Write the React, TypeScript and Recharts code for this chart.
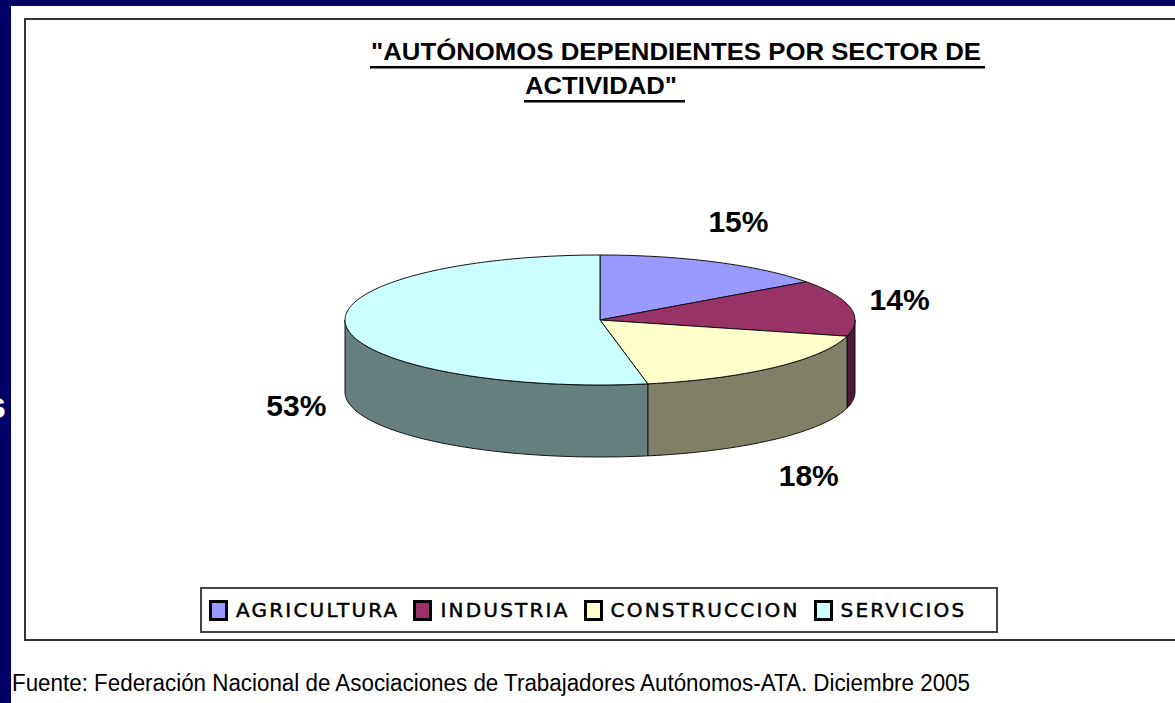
import { PieChart, Pie, Cell, Legend } from "recharts";

// sectors and shares (percent of dependent self-employed)
const sectors = ["AGRICULTURA", "INDUSTRIA", "CONSTRUCCION", "SERVICIOS"];
const shares = [15, 14, 18, 53];

const TOP_COLORS = ["#9999FF", "#993366", "#FFFFCC", "#CCFFFF"];
const SIDE_COLORS = ["#4D4D80", "#4D1A33", "#808066", "#668080"];

const pieData = sectors.map((name, i) => ({ name, value: shares[i] }));

const CX = 600;
const CY = 320;
const RX = 255;
const TILT = 65 / 255; // vertical squash of the disc
const DEPTH = 72;
const RAD = Math.PI / 180;

const pt = (cx: number, cy: number, rx: number, ry: number, deg: number) =>
  `${(cx + rx * Math.cos(deg * RAD)).toFixed(2)},${(cy - ry * Math.sin(deg * RAD)).toFixed(2)}`;

const arcPoints = (cx: number, cy: number, rx: number, ry: number, from: number, to: number) => {
  const pts: string[] = [];
  const n = Math.max(2, Math.ceil(Math.abs(to - from)));
  for (let k = 0; k <= n; k++) pts.push(pt(cx, cy, rx, ry, from + ((to - from) * k) / n));
  return pts;
};

const TopShape = (props: any) => {
  const { cx, cy, outerRadius, startAngle, endAngle, fill } = props;
  const ry = outerRadius * TILT;
  const pts = arcPoints(cx, cy, outerRadius, ry, startAngle, endAngle);
  return (
    <path
      d={`M${cx},${cy} L${pts.join(" L")} Z`}
      fill={fill}
      stroke="#111"
      strokeWidth={1}
      strokeLinejoin="round"
    />
  );
};

const SideShape = (props: any) => {
  const { cx, cy, outerRadius, startAngle, endAngle, fill } = props;
  // only the front half of the rim is visible
  const hi = Math.min(Math.max(startAngle, endAngle), 0);
  const lo = Math.max(Math.min(startAngle, endAngle), -180);
  if (hi <= lo) return <g />;
  const ry = outerRadius * TILT;
  const upper = arcPoints(cx, cy, outerRadius, ry, hi, lo);
  const lower = arcPoints(cx, cy + DEPTH, outerRadius, ry, lo, hi);
  return (
    <path
      d={`M${upper.join(" L")} L${lower.join(" L")} Z`}
      fill={fill}
      stroke="#111"
      strokeWidth={1}
      strokeLinejoin="round"
    />
  );
};

const renderLabel = (props: any) => {
  const { cx, cy, outerRadius, midAngle, value } = props;
  const s = Math.sin(midAngle * RAD);
  const x = cx + (outerRadius + 50) * Math.cos(midAngle * RAD);
  const y = cy - (outerRadius * TILT + 45) * s + (s < 0 ? DEPTH + 3 : 0);
  return (
    <text
      x={x}
      y={y}
      textAnchor="middle"
      dominantBaseline="central"
      fill="#000"
      fontFamily="'Liberation Sans', Arial, sans-serif"
      fontWeight="bold"
      fontSize={30}
    >
      {`${value}%`}
    </text>
  );
};

const renderLegend = (props: any) => {
  const items = (props.payload ?? [])
    .filter((p: any) => p.type !== "none")
    .slice()
    .sort((a: any, b: any) => sectors.indexOf(a.value) - sectors.indexOf(b.value));
  return (
    <div
      style={{
        display: "flex",
        alignItems: "center",
        height: "100%",
        boxSizing: "border-box",
        border: "2px solid #444",
        background: "#fff",
        paddingLeft: 7,
        fontFamily: "'DejaVu Sans', sans-serif",
        fontSize: 20,
        letterSpacing: 2.2,
        color: "#000",
        WebkitTextStroke: "0.5px #000",
      }}
    >
      {items.map((it: any, i: number) => (
        <span key={i} style={{ display: "flex", alignItems: "center", marginRight: 14 }}>
          <span
            style={{
              display: "inline-block",
              width: 13,
              height: 15,
              border: "3px solid #000",
              background: TOP_COLORS[sectors.indexOf(it.value)],
              marginRight: 8,
            }}
          />
          <span>{it.value}</span>
        </span>
      ))}
    </div>
  );
};

export default function App() {
  return (
    <div
      style={{
        position: "absolute",
        left: 0,
        top: 0,
        width: 1175,
        height: 703,
        background: "#000066",
        overflow: "hidden",
      }}
    >
      <div
        style={{
          position: "absolute",
          left: -14,
          top: 385,
          color: "#fff",
          fontFamily: "'Liberation Sans', Arial, sans-serif",
          fontWeight: "bold",
          fontSize: 36,
        }}
      >
        s
      </div>
      <div style={{ position: "absolute", left: 11, top: 6, right: 0, bottom: 0, background: "#fff" }} />
      <div
        style={{
          position: "absolute",
          left: 24,
          top: 18,
          width: 1300,
          height: 623,
          borderTop: "2px solid #333",
          borderLeft: "2px solid #333",
          borderBottom: "2px solid #333",
          boxSizing: "border-box",
        }}
      />
      <svg width={1175} height={703} style={{ position: "absolute", left: 0, top: 0 }}>
        <g fontFamily="'Liberation Sans', Arial, sans-serif" fontWeight="bold" fontSize={23} fill="#000">
          <text x={371} y={60} textLength={610} lengthAdjust="spacingAndGlyphs">
            "AUTÓNOMOS DEPENDIENTES POR SECTOR DE
          </text>
          <rect x={370} y={66} width={615} height={2.5} />
          <text x={525} y={94} textLength={152} lengthAdjust="spacingAndGlyphs">
            ACTIVIDAD"
          </text>
          <rect x={524} y={100} width={161} height={2.5} />
        </g>
        <text
          x={12}
          y={691}
          fontFamily="'Liberation Sans', Arial, sans-serif"
          fontSize={23}
          fill="#000"
          textLength={958}
          lengthAdjust="spacingAndGlyphs"
        >
          Fuente: Federación Nacional de Asociaciones de Trabajadores Autónomos-ATA. Diciembre 2005
        </text>
      </svg>
      <div style={{ position: "absolute", left: 0, top: 0 }}>
        <PieChart width={1175} height={703} margin={{ top: 0, right: 0, bottom: 0, left: 0 }}>
          <Pie
            data={pieData}
            dataKey="value"
            nameKey="name"
            cx={CX}
            cy={CY}
            outerRadius={RX}
            startAngle={90}
            endAngle={-270}
            shape={SideShape}
            legendType="none"
            isAnimationActive={false}
          >
            {pieData.map((d, i) => (
              <Cell key={d.name} fill={SIDE_COLORS[i]} />
            ))}
          </Pie>
          <Pie
            data={pieData}
            dataKey="value"
            nameKey="name"
            cx={CX}
            cy={CY}
            outerRadius={RX}
            startAngle={90}
            endAngle={-270}
            shape={TopShape}
            label={renderLabel}
            labelLine={false}
            isAnimationActive={false}
          >
            {pieData.map((d, i) => (
              <Cell key={d.name} fill={TOP_COLORS[i]} />
            ))}
          </Pie>
          <Legend
            content={renderLegend}
            wrapperStyle={{ left: 200, top: 587, width: 798, height: 46, bottom: "auto" }}
          />
        </PieChart>
      </div>
    </div>
  );
}
